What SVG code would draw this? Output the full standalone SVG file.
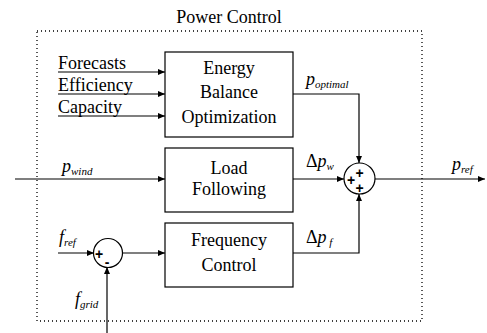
<svg xmlns="http://www.w3.org/2000/svg" width="487" height="333" viewBox="0 0 487 333" font-family="Liberation Serif, serif" font-size="18">
<defs>
<marker id="ah" markerWidth="8" markerHeight="8" refX="7" refY="4" orient="auto" markerUnits="userSpaceOnUse">
<path d="M0,1 L7,4 L0,7 Z" fill="#000"/>
</marker>
</defs>
<style>
.i{font-style:italic}
.n{font-style:normal}
.s{font-size:11px}
.sg{font-size:14px;font-weight:bold}
.box{fill:#fff;stroke:#000;stroke-width:1.2}
.ln{fill:none;stroke:#000;stroke-width:1.2}
</style>
<rect width="487" height="333" fill="#fff"/>
<g id="frame">
<rect x="37" y="31" width="385" height="290" fill="none" stroke="#000" stroke-width="1.3" stroke-dasharray="1,3"/>
<text x="229" y="23" text-anchor="middle" font-family="Liberation Serif">Power Control</text>
</g>
<g id="connectors">
<line class="ln" x1="58" y1="72" x2="165" y2="72" marker-end="url(#ah)"/>
<line class="ln" x1="58" y1="94" x2="165" y2="94" marker-end="url(#ah)"/>
<line class="ln" x1="58" y1="116" x2="165" y2="116" marker-end="url(#ah)"/>
<line class="ln" x1="15" y1="179" x2="165" y2="179" marker-end="url(#ah)"/>
<line class="ln" x1="293" y1="179" x2="344" y2="179" marker-end="url(#ah)"/>
<polyline class="ln" points="293,94 359,94 359,163" marker-end="url(#ah)"/>
<polyline class="ln" points="293,253 359,253 359,194" marker-end="url(#ah)"/>
<line class="ln" x1="375" y1="179" x2="485" y2="179" marker-end="url(#ah)"/>
<line class="ln" x1="58" y1="253" x2="94" y2="253" marker-end="url(#ah)"/>
<line class="ln" x1="122" y1="253" x2="165" y2="253" marker-end="url(#ah)"/>
<line class="ln" x1="107" y1="333" x2="107" y2="267" marker-end="url(#ah)"/>
</g>
<g id="inputs" font-family="Liberation Serif">
<text x="58" y="69">Forecasts</text>
<text x="58" y="91">Efficiency</text>
<text x="58" y="113">Capacity</text>
</g>
<g id="energy" font-family="Liberation Serif">
<rect class="box" x="165" y="52" width="128" height="85"/>
<text x="229" y="74" text-anchor="middle">Energy</text>
<text x="229" y="98" text-anchor="middle">Balance</text>
<text x="229" y="123" text-anchor="middle">Optimization</text>
</g>
<g id="load" font-family="Liberation Serif">
<rect class="box" x="165" y="148" width="128" height="64"/>
<text x="229" y="174" text-anchor="middle">Load</text>
<text x="229" y="195" text-anchor="middle">Following</text>
</g>
<g id="freq" font-family="Liberation Serif">
<rect class="box" x="165" y="223" width="128" height="64"/>
<text x="229" y="246" text-anchor="middle">Frequency</text>
<text x="229" y="271" text-anchor="middle">Control</text>
</g>
<g id="sum" font-family="Liberation Sans">
<circle class="box" cx="359.5" cy="178.5" r="15.5"/>
<text class="sg" x="359.5" y="178" text-anchor="middle">+</text>
<text class="sg" x="351" y="185" text-anchor="middle">+</text>
<text class="sg" x="359.5" y="193" text-anchor="middle">+</text>
</g>
<g id="diff" font-family="Liberation Sans">
<circle class="box" cx="108" cy="253" r="14.5"/>
<text class="sg" x="99" y="259" text-anchor="middle">+</text>
<text class="sg" x="107" y="267" text-anchor="middle">-</text>
</g>
<g id="labels" font-family="Liberation Serif">
<text class="i" x="306" y="85">p<tspan class="s" dy="3">optimal</tspan></text>
<text class="i" x="62" y="172">p<tspan class="s" dy="3">wind</tspan></text>
<text class="i" x="306" y="167"><tspan class="n">Δ</tspan>p<tspan class="s" dy="3">w</tspan></text>
<text class="i" x="452" y="170">p<tspan class="s" dy="3">ref</tspan></text>
<text class="i" x="306" y="243"><tspan class="n">Δ</tspan>p<tspan class="s" dy="3"> f</tspan></text>
<text class="i" x="59" y="243">f<tspan class="s" dy="3">ref</tspan></text>
<text class="i" x="75" y="305">f<tspan class="s" dy="3">grid</tspan></text>
</g>
</svg>
